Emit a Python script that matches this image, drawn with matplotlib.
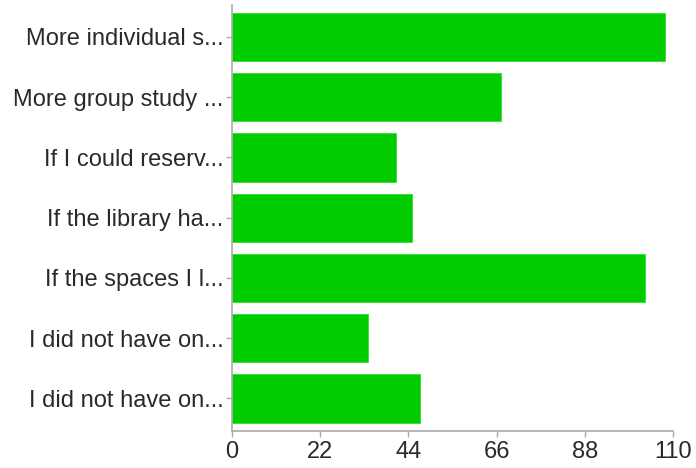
import matplotlib
matplotlib.use("Agg")
import matplotlib.pyplot as plt

labels = [
    "More individual s...",
    "More group study ...",
    "If I could reserv...",
    "If the library ha...",
    "If the spaces I l...",
    "I did not have on...",
    "I did not have on...",
]
counts = [108, 67, 41, 45, 103, 34, 47]
x_ticks = [0, 22, 44, 66, 88, 110]

plt.rcParams["font.family"] = ["Liberation Sans", "DejaVu Sans"]

fig = plt.figure(figsize=(6.96, 4.68), dpi=100)
ax = fig.add_axes([232 / 696, 37 / 468, 441 / 696, 426 / 468])

y = list(range(len(labels)))
ax.barh(y, counts, height=0.8, color="#00cc00", edgecolor="#33dd33", linewidth=0.6)

ax.set_xlim(0, 110)
ax.set_ylim(6.54, -0.53)
ax.set_xticks(x_ticks)
ax.set_yticks(y)
ax.set_yticklabels(labels)

for side in ["top", "right"]:
    ax.spines[side].set_visible(False)
for side in ["left", "bottom"]:
    ax.spines[side].set_color("#aaaaaa")
    ax.spines[side].set_linewidth(1.2)

ax.tick_params(axis="both", colors="#aaaaaa", labelcolor="#2a2a2a", labelsize=17, length=4, width=1)
ax.tick_params(axis="y", pad=2)
ax.tick_params(axis="x", pad=3)

fig.savefig("out.png", dpi=100)
